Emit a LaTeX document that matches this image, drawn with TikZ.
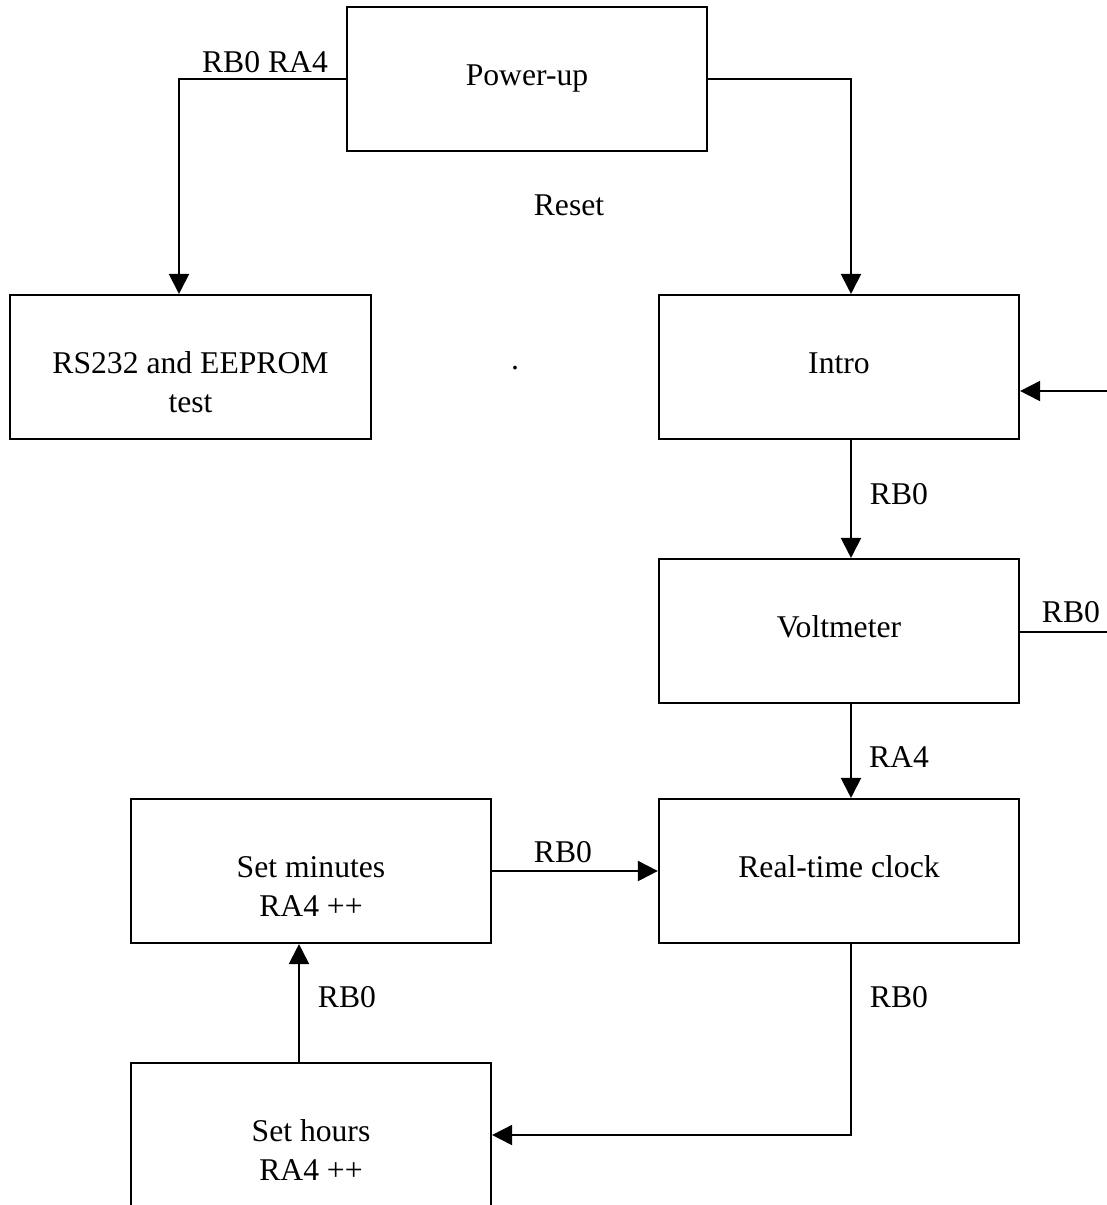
\documentclass[tikz,border=0pt]{standalone}
\usepackage{fontspec}
\setmainfont{Liberation Serif}
\usetikzlibrary{arrows.meta, positioning}

\begin{document}
\begin{tikzpicture}[
                x=0.01cm, y=-0.01cm,
                font=\fontsize{9}{11.1}\selectfont,
                line width=0.57pt,
                box/.style={draw, minimum width=3.6cm, minimum height=1.44cm, inner sep=0pt, align=center, text height=6pt, text depth=2.3pt},
                twoline/.style={box, text height=28.2pt},
                lbl/.style={inner sep=0pt},
                link/.style={-{Triangle[length=0.2cm, width=0.2cm]}}
            ]
                \useasboundingbox (0,0) rectangle (1107,1205);

                \node[box] (power) at (527, 79) {Power-up};

                \node[twoline] (rs) at (190.5, 367) {RS232 and EEPROM\\test};
                \node[box] (intro) at (839, 367) {Intro};

                \node[box] (volt) at (839, 631) {Voltmeter};
                \node[box] (rtc) at (839, 871) {Real-time clock};

                \node[twoline] (minutes) at (311, 871) {Set minutes\\RA4 ++};
                \node[twoline] (hours) at (311, 1135) {Set hours\\RA4 ++};

                % loop back past the right edge
                \coordinate (loopOut) at (1112, 632);
                \coordinate (loopIn) at (1112, 391);

                \draw[link] (power.west) -| ([xshift=-0.115cm]rs.north);
                \draw[link] (power.east) -| ([xshift=0.12cm]intro.north);
                \draw[link] ([xshift=0.12cm]intro.south) -- ([xshift=0.12cm]volt.north);
                \draw[link] ([xshift=0.12cm]volt.south) -- ([xshift=0.12cm]rtc.north);
                \draw (volt.east |- loopOut) -- (loopOut);
                \draw[link] (loopIn) -- (intro.east |- loopIn);
                \draw[link] (minutes.east) -- (rtc.west);
                \draw[link] ([xshift=0.12cm]rtc.south) |- (hours.east);
                \draw[link] ([xshift=-0.12cm]hours.north) -- ([xshift=-0.12cm]minutes.south);

                % Labels
                \node[lbl] (lblRbRa) at (265, 62) {RB0 RA4};
                \node[lbl] (lblReset) at (569, 205) {Reset};
                \node[lbl] (lblDot) at (515, 368) {.};
                \node[lbl] (lblIntro) at (899, 494) {RB0};
                \node[lbl] (lblLoop) at (1071, 612) {RB0};
                \node[lbl] (lblVolt) at (899, 757) {RA4};
                \node[lbl] (lblMin) at (563, 852) {RB0};
                \node[lbl] (lblRtc) at (899, 997) {RB0};
                \node[lbl] (lblHours) at (347, 997) {RB0};
            \end{tikzpicture}
\end{document}
